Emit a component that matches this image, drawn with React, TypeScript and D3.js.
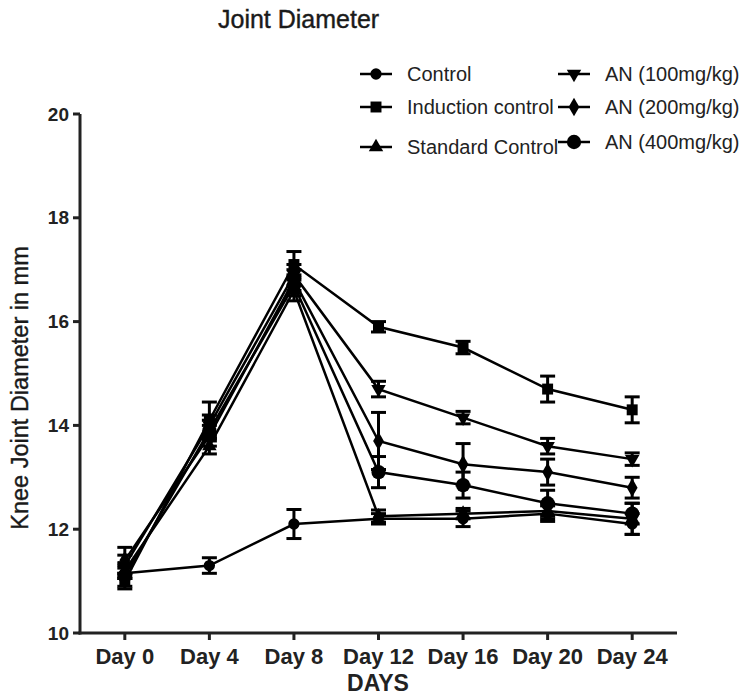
import React from "react";
import * as d3 from "d3";

const days = ["Day 0", "Day 4", "Day 8", "Day 12", "Day 16", "Day 20", "Day 24"];
const yTicks = [10, 12, 14, 16, 18, 20];

const control = [11.15, 11.3, 12.1, 12.2, 12.2, 12.3, 12.1];
const controlErr = [0.1, 0.15, 0.28, 0.1, 0.15, 0.15, 0.2];
const induction = [11.0, 14.1, 17.1, 15.9, 15.5, 14.7, 14.3];
const inductionErr = [0.15, 0.35, 0.25, 0.1, 0.12, 0.25, 0.25];
const standard = [11.2, 13.6, 16.6, 12.25, 12.3, 12.35, 12.2];
const standardErr = [0.15, 0.15, 0.2, 0.12, 0.1, 0.15, 0.3];
const an100 = [11.3, 14.0, 16.9, 14.7, 14.15, 13.6, 13.35];
const an100Err = [0.2, 0.2, 0.2, 0.15, 0.12, 0.15, 0.12];
const an200 = [11.4, 13.8, 16.8, 13.7, 13.25, 13.1, 12.8];
const an200Err = [0.25, 0.2, 0.2, 0.55, 0.4, 0.25, 0.2];
const an400 = [11.1, 13.9, 16.7, 13.1, 12.85, 12.5, 12.3];
const an400Err = [0.2, 0.2, 0.2, 0.3, 0.25, 0.25, 0.2];

const series = [
  { name: "Control", values: control, err: controlErr, symbol: d3.symbolCircle, size: 100, rot: 0 },
  { name: "Induction control", values: induction, err: inductionErr, symbol: d3.symbolSquare, size: 120, rot: 0 },
  { name: "Standard Control", values: standard, err: standardErr, symbol: d3.symbolTriangle, size: 90, rot: 0 },
  { name: "AN (100mg/kg)", values: an100, err: an100Err, symbol: d3.symbolTriangle, size: 90, rot: 180 },
  { name: "AN (200mg/kg)", values: an200, err: an200Err, symbol: d3.symbolDiamond, size: 100, rot: 0 },
  { name: "AN (400mg/kg)", values: an400, err: an400Err, symbol: d3.symbolCircle, size: 160, rot: 0 },
];

const W = 750, H = 695;
const left = 80, right = 677, top = 114, bottom = 633;
const font = "Liberation Sans, Arial, sans-serif";

export default function App() {
  const x = d3.scalePoint<string>().domain(days).range([left, right]).padding(0.53);
  const y = d3.scaleLinear().domain([10, 20]).range([bottom, top]);
  const line = d3.line<number>().x((d, i) => x(days[i])!).y(d => y(d));
  const sym = (s: any, size: number) => d3.symbol().type(s).size(size)()!;

  const legendPos = [
    { x: 360, y: 74 }, { x: 360, y: 107 }, { x: 360, y: 147 },
    { x: 558, y: 74 }, { x: 558, y: 107 }, { x: 558, y: 142 },
  ];

  return (
    <svg width={W} height={H} style={{ position: "absolute", left: 0, top: 0, background: "#fff" }}>
      <text x={218} y={28} fontFamily={font} fontSize={25} fill="#1a1a1a" stroke="#1a1a1a" strokeWidth={0.4}>Joint Diameter</text>

      {/* series */}
      {series.map(s => (
        <g key={s.name}>
          <path d={line(s.values)!} fill="none" stroke="#000" strokeWidth={2.5} />
          {s.values.map((v, i) => {
            const cx = x(days[i])!;
            const e = s.err[i];
            return (
              <g key={i} stroke="#000" strokeWidth={3}>
                <line x1={cx} x2={cx} y1={y(v + e)} y2={y(v - e)} />
                <line x1={cx - 7.5} x2={cx + 7.5} y1={y(v + e)} y2={y(v + e)} />
                <line x1={cx - 7.5} x2={cx + 7.5} y1={y(v - e)} y2={y(v - e)} />
                <path d={sym(s.symbol, s.size)} transform={`translate(${cx},${y(v)}) rotate(${s.rot})`} fill="#000" stroke="none" />
              </g>
            );
          })}
        </g>
      ))}

      {/* axes */}
      <g stroke="#222" strokeWidth={3}>
        <line x1={left} x2={left} y1={top} y2={bottom + 1.5} />
        <line x1={left - 1.5} x2={right} y1={bottom} y2={bottom} />
        {yTicks.map(t => <line key={t} x1={left - 7} x2={left} y1={y(t)} y2={y(t)} />)}
        {days.map(d => <line key={d} x1={x(d)!} x2={x(d)!} y1={bottom} y2={bottom + 7} />)}
      </g>
      {yTicks.map(t => (
        <text key={t} x={69} y={y(t)} dy="0.35em" textAnchor="end" fontFamily={font} fontWeight="bold" fontSize={19} fill="#222">{t}</text>
      ))}
      {days.map(d => (
        <text key={d} x={x(d)!} y={664} textAnchor="middle" fontFamily={font} fontWeight="bold" fontSize={22} fill="#222">{d}</text>
      ))}
      <text x={378} y={691} textAnchor="middle" fontFamily={font} fontWeight="bold" fontSize={23} fill="#222">DAYS</text>
      <text transform="translate(28,388) rotate(-90)" textAnchor="middle" fontFamily={font} fontSize={23.5} fill="#1a1a1a" stroke="#1a1a1a" strokeWidth={0.4}>Knee Joint Diameter in mm</text>

      {/* legend */}
      {series.map((s, i) => {
        const p = legendPos[i];
        return (
          <g key={s.name}>
            <line x1={p.x} x2={p.x + 32} y1={p.y} y2={p.y} stroke="#000" strokeWidth={2.5} />
            <path d={sym(s.symbol, s.size)} transform={`translate(${p.x + 16},${p.y}) rotate(${s.rot})`} fill="#000" />
            <text x={p.x + 47} y={p.y} dy="0.35em" fontFamily={font} fontSize={20} fill="#222">{s.name}</text>
          </g>
        );
      })}
    </svg>
  );
}
